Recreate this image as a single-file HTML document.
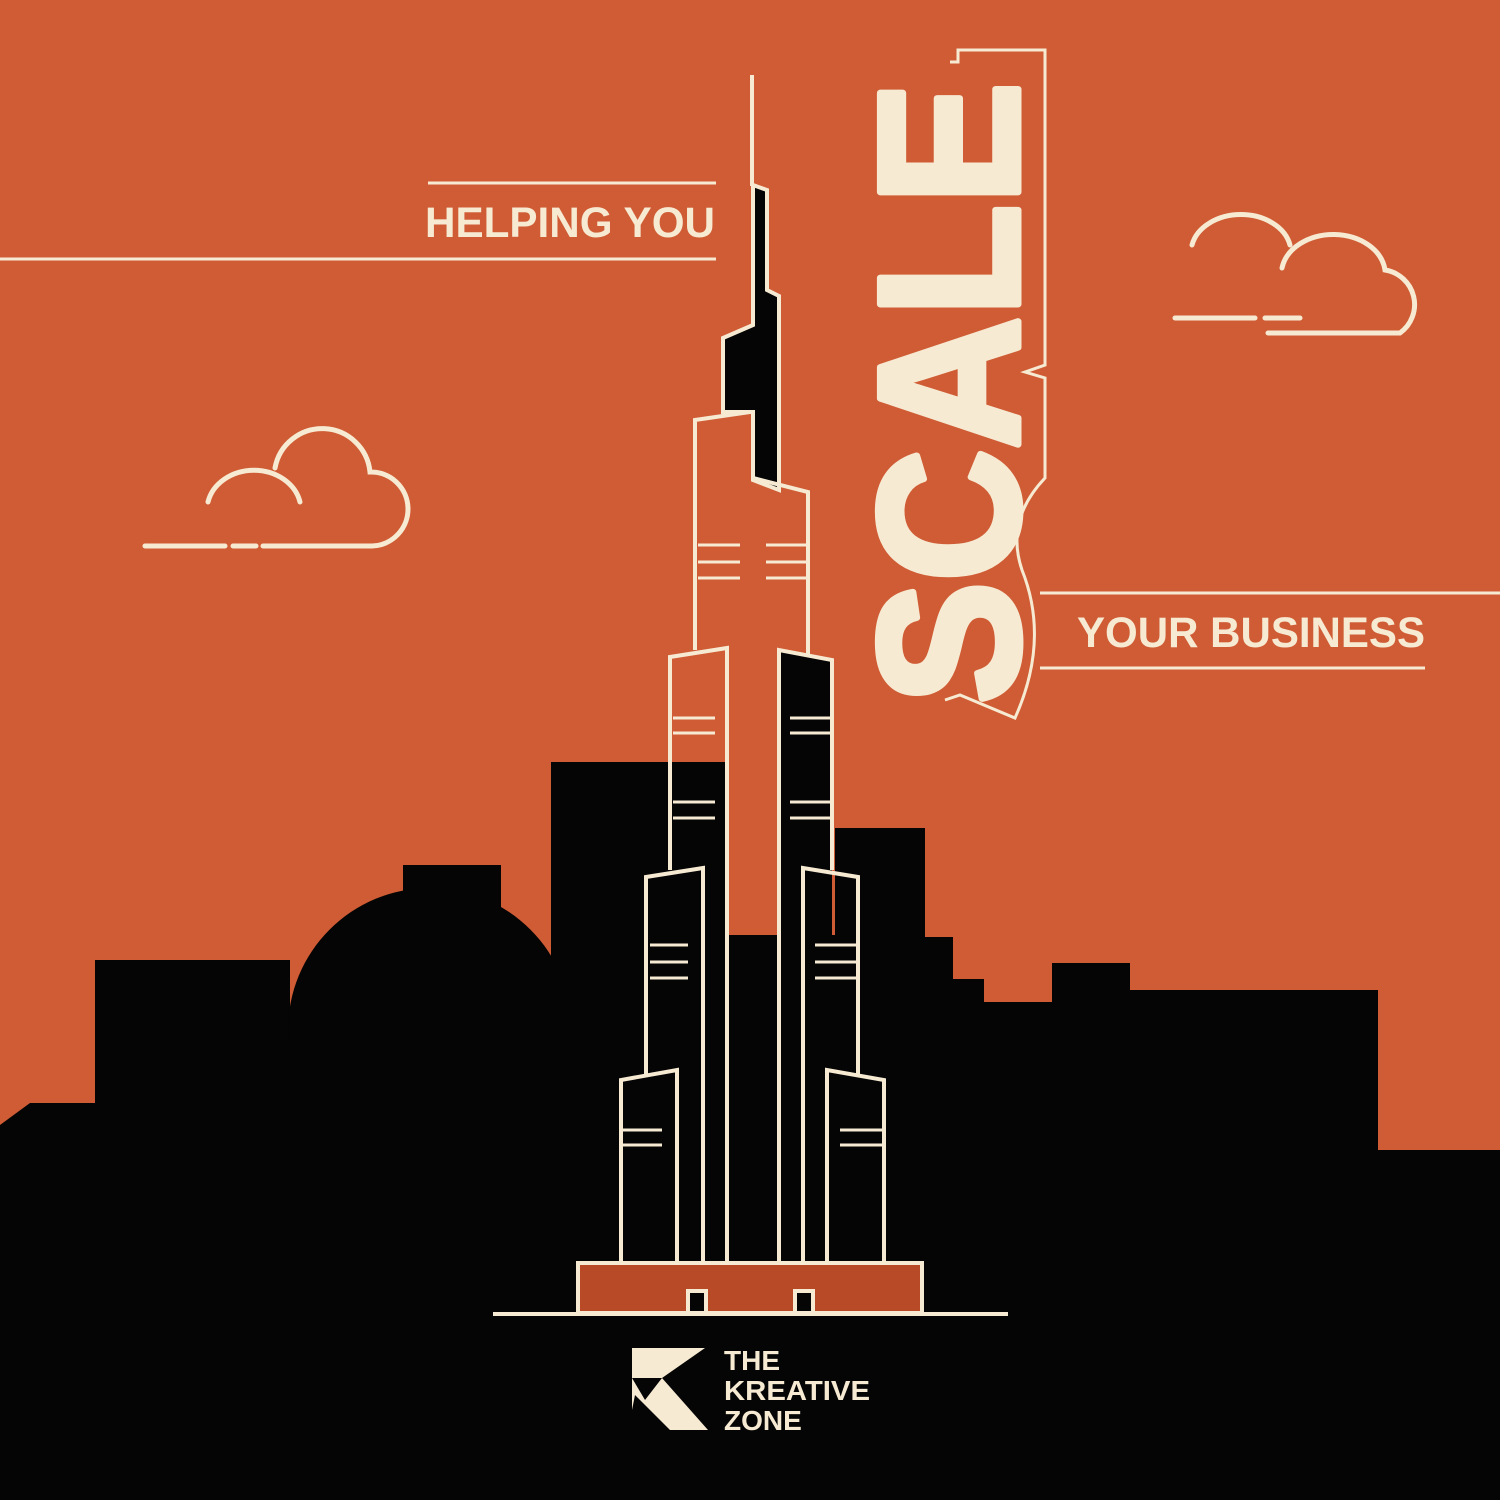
<!DOCTYPE html>
<html><head><meta charset="utf-8"><style>
html,body{margin:0;padding:0;background:#cf5c35;}
svg{display:block}
text{font-family:"Liberation Sans",sans-serif;font-weight:bold;fill:#f7ead2}
</style></head><body>
<svg width="1500" height="1500" viewBox="0 0 1500 1500">
<rect width="1500" height="1500" fill="#cf5c35"/>
<g fill="#050505">
<path d="M0,1125 L30,1103 L95,1103 L95,960 L290,960 L290,1500 L0,1500 Z"/>
<circle cx="430" cy="1030" r="142"/>
<rect x="403" y="865" width="98" height="120"/>
<path d="M551,762 L725,762 L725,935 L835,935 L835,828 L925,828 L925,937 L953,937 L953,979 L984,979 L984,1002 L1052,1002 L1052,963 L1130,963 L1130,990 L1378,990 L1378,1150 L1500,1150 L1500,1500 L280,1500 L280,1040 L551,1040 Z"/>
</g>
<g stroke="#f7ead2" stroke-width="4" fill="none">
<line x1="752" y1="75" x2="752" y2="186"/>
<path d="M753,185 L767,190 L767,290 L779,296 L779,490 L753,480 L753,412 L723,412 L723,338 L753,325 Z" fill="#050505"/>
<path d="M750,412 L695,420 L695,650"/>
<path d="M753,478 L808,492 L808,655"/>
<path d="M698,545H740M698,562H740M698,578H740M766,545H808M766,562H808M766,578H808" stroke-width="3"/>
<path d="M779,1262 L779,650 L832,660 L832,1262 Z" fill="#050505" stroke="none"/>
<path d="M779,1262 L779,650 L832,660 L832,870"/>
<path d="M670,870 L670,657 L727,648 L727,1262"/>
<path d="M673,718H715M673,733H715M673,802H715M673,818H715M790,718H832M790,733H832M790,802H832M790,818H832" stroke-width="3"/>
<path d="M646,1075 L646,877 L703,868 L703,1262"/>
<path d="M803,1262 L803,868 L858,877 L858,1075"/>
<path d="M650,945H688M650,962H688M650,978H688M815,945H858M815,962H858M815,978H858" stroke-width="3"/>
<path d="M621,1262 L621,1080 L677,1070 L677,1262"/>
<path d="M827,1262 L827,1070 L884,1080 L884,1262"/>
<path d="M623,1130H662M623,1145H662M840,1130H884M840,1145H884" stroke-width="3"/>
<rect x="578" y="1263" width="344" height="50" fill="#b94a28"/>
<rect x="688" y="1291" width="18" height="22" fill="#050505"/>
<rect x="795" y="1291" width="18" height="22" fill="#050505"/>
<line x1="493" y1="1314" x2="1008" y2="1314"/>
</g>
<g stroke="#f7ead2" stroke-width="3" fill="none">
<line x1="428" y1="183" x2="716" y2="183"/>
<line x1="0" y1="259" x2="716" y2="259"/>
<line x1="1040" y1="593" x2="1500" y2="593"/>
<line x1="1040" y1="668" x2="1425" y2="668"/>
<path d="M950,62 L958,62 L958,50 L1045,50 L1045,365 L1025,372 L1045,378 L1045,478 Q1005,520 1022,570 Q1050,640 1015,718 L960,695 L945,700"/>
</g>
<text x="425" y="237" font-size="43" textLength="290" lengthAdjust="spacingAndGlyphs">HELPING YOU</text>
<text x="1077" y="647" font-size="43" textLength="348" lengthAdjust="spacingAndGlyphs">YOUR BUSINESS</text>
<text transform="translate(1018,704) rotate(-90)" font-size="200" stroke="#f7ead2" stroke-width="7" stroke-linejoin="round" textLength="622" lengthAdjust="spacingAndGlyphs">SCALE</text>
<g stroke="#f7ead2" stroke-width="5" fill="none" stroke-linecap="round">
<path d="M145,546 H225 M233,546 H256 M263,546 H372 A37,37 0 0 0 370,472 A48,48 0 0 0 275,468"/>
<path d="M300,502 A47,40 0 0 0 208,502"/>
</g>
<g stroke="#f7ead2" stroke-width="5" fill="none" stroke-linecap="round">
<path d="M1175,318 H1255 M1265,318 H1300 M1268,333 H1400 A35,35 0 0 0 1385,270 A52,40 0 0 0 1282,268"/>
<path d="M1290,245 A50,38 0 0 0 1192,245"/>
</g>
<g>
<path d="M632,1348 L705,1348 L662,1378 L708,1430 L670,1430 L635,1395 L632,1410 Z" fill="#f7ead2"/>
<path d="M632,1378 L662,1378 L645,1400 Z" fill="#050505"/>
<text x="724" y="1370" font-size="28">THE</text>
<text x="724" y="1400" font-size="28" textLength="146" lengthAdjust="spacingAndGlyphs">KREATIVE</text>
<text x="724" y="1430" font-size="28">ZONE</text>
</g>
</svg>
</body></html>
